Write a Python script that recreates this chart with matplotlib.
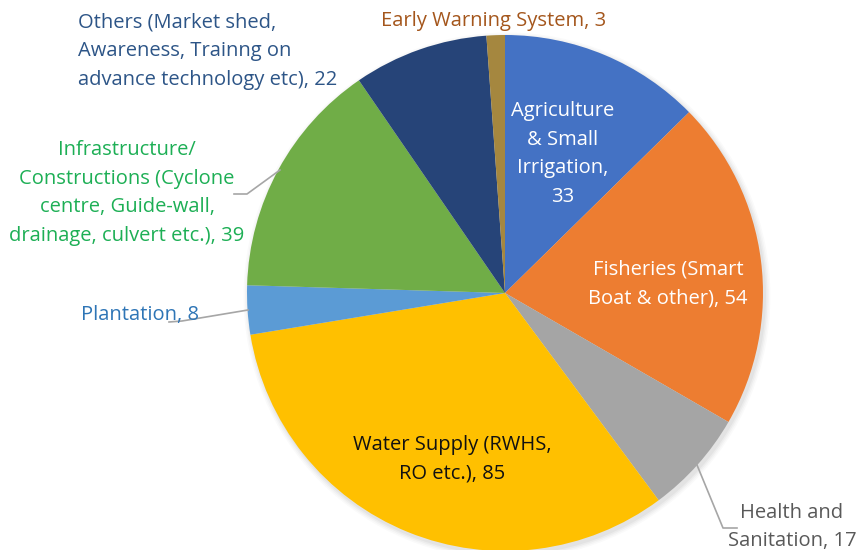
import matplotlib
matplotlib.use("Agg")
import matplotlib.pyplot as plt
from matplotlib.patches import Circle

plt.rcParams['font.family'] = ['Open Sans', 'DejaVu Sans']

categories = [
    "Agriculture\n& Small\nIrrigation",
    "Fisheries (Smart\nBoat & other)",
    "Health and\nSanitation",
    "Water Supply (RWHS,\nRO etc.)",
    "Plantation",
    "Infrastructure/\nConstructions (Cyclone\ncentre, Guide-wall,\ndrainage, culvert etc.)",
    "Others (Market shed,\nAwareness, Trainng on\nadvance technology etc)",
    "Early Warning System",
]
values = [33, 54, 17, 85, 8, 39, 22, 3]
slice_colors = ["#4472C4", "#ED7D31", "#A5A5A5", "#FFC000",
                "#5B9BD5", "#70AD47", "#264478", "#A5873F"]
label_colors = ["white", "white", "#595959", "#111111",
                "#2E75B6", "#1DAF55", "#2D5587", "#A4561C"]

W, H = 858, 550
fig = plt.figure(figsize=(W / 100, H / 100), dpi=100)
ax = fig.add_axes([0, 0, 1, 1])

cx, cy, r = 505, 550 - 293, 258

# soft drop shadow under the pie
for i, a in enumerate([0.035, 0.03, 0.025, 0.02]):
    ax.add_patch(Circle((cx + 2, cy - 3), r + 1 + i * 1.5, color="black",
                        alpha=a, lw=0, zorder=0))

ax.pie(values, colors=slice_colors, startangle=90, counterclock=False,
       center=(cx, cy), radius=r, frame=True,
       wedgeprops=dict(linewidth=0, zorder=1))
ax.set_xlim(0, W)
ax.set_ylim(0, H)
ax.set_aspect('equal')
ax.axis('off')

# label anchor points (x, y from top) and alignment
label_pos = [
    (563, 154, 'center'),
    (668, 284, 'center'),
    (792, 527, 'center'),
    (452, 459, 'center'),
    (140, 315, 'center'),
    (127, 193, 'center'),
    (78, 51, 'left'),
    (494, 21, 'center'),
]

fs = 14.5
for name, val, col, (x, y, ha) in zip(categories, values, label_colors, label_pos):
    if name.startswith("Agriculture"):
        txt = f"{name},\n{val}"
    else:
        txt = f"{name}, {val}"
    ax.text(x, H - y, txt, ha=ha, va='center', color=col, fontsize=fs,
            linespacing=1.58, multialignment=ha, zorder=5)

# leader lines
leaders = [
    [(234, 194), (247, 194), (280, 170)],
    [(169, 322), (182, 321), (248, 310)],
    [(697, 465), (723, 528), (737, 528)],
]
for pts in leaders:
    xs = [p[0] for p in pts]
    ys = [H - p[1] for p in pts]
    ax.plot(xs, ys, color="#A6A6A6", lw=1.2, zorder=4)

fig.savefig("out.png", dpi=100)
